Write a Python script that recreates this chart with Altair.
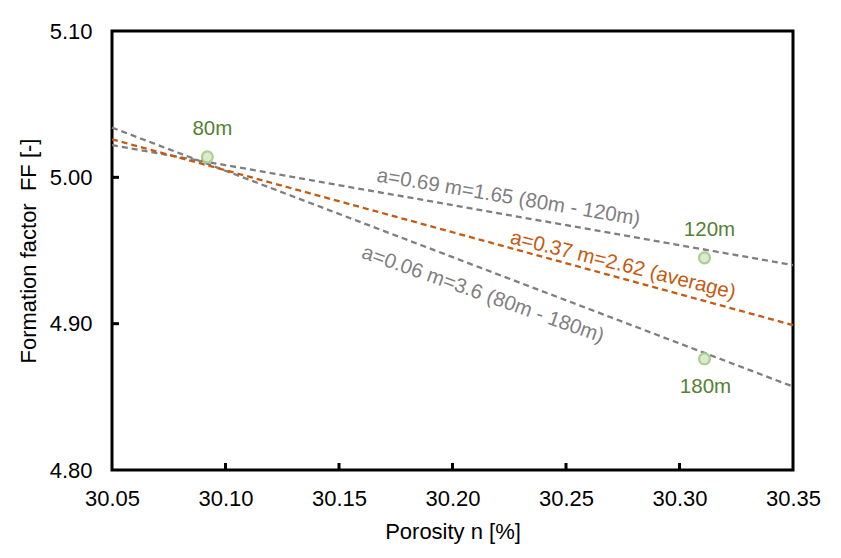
import altair as alt
import pandas as pd

# ---- data ----
x_domain = [30.05, 30.35]
y_domain = [4.80, 5.10]
x_ticks = [30.05, 30.10, 30.15, 30.20, 30.25, 30.30, 30.35]
y_ticks = [4.80, 4.90, 5.00, 5.10]
x_inner_ticks = [30.10, 30.15, 30.20, 30.25, 30.30]
y_inner_ticks = [4.90, 5.00]

depths = ["80m", "120m", "180m"]
porosity = [30.092, 30.311, 30.311]
ff = [5.014, 4.945, 4.876]
label_side = ["above", "above", "below"]

line_x = [30.05, 30.35]
line_80_120 = [5.022, 4.940]
line_avg = [5.026, 4.899]
line_80_180 = [5.034, 4.857]

ann_text = ["a=0.69 m=1.65 (80m - 120m)", "a=0.37 m=2.62 (average)", "a=0.06 m=3.6 (80m - 180m)"]
ann_x = [30.2247, 30.2751, 30.2134]
ann_y = [4.9862, 4.9398, 4.9199]
ann_angle = [9.5, 14, 19.5]

GRAY = "#7f7f7f"
ORANGE = "#c55a11"
GREEN_TXT = "#548235"
FONT = "Liberation Sans"
W, H = 681, 439

xs = alt.Scale(domain=x_domain, nice=False, zero=False)
ys = alt.Scale(domain=y_domain, nice=False, zero=False)

x_axis = alt.Axis(values=x_ticks, format=".2f", title="Porosity n [%]", grid=False,
                  domain=False, ticks=False, labelPadding=18, titlePadding=12,
                  labelFlush=False, labelOverlap=False)
y_axis = alt.Axis(values=y_ticks, format=".2f", title="Formation factor\u00a0 FF [-]", grid=False,
                  domain=False, ticks=False, labelPadding=20, titlePadding=9,
                  labelFlush=False, labelOverlap=False)

def line_layer(ys_vals, color):
    df = pd.DataFrame({"x": line_x, "y": ys_vals})
    return alt.Chart(df).mark_line(color=color, strokeWidth=2.3, strokeDash=[6, 4]).encode(
        x=alt.X("x:Q", scale=xs, axis=x_axis),
        y=alt.Y("y:Q", scale=ys, axis=y_axis),
    )

l1 = line_layer(line_80_120, GRAY)
l2 = line_layer(line_80_180, GRAY)
l3 = line_layer(line_avg, ORANGE)

pts_df = pd.DataFrame({"x": porosity, "y": ff, "label": depths, "side": label_side})
pts = alt.Chart(pts_df).mark_point(shape="circle", filled=True, size=120, fill="#dbead0",
                                   stroke="#a9d18e", strokeWidth=2.2, opacity=1).encode(
    x=alt.X("x:Q", scale=xs), y=alt.Y("y:Q", scale=ys))

lab_above = alt.Chart(pts_df).transform_filter(alt.datum.side == "above").mark_text(
    font=FONT, fontSize=20.5, color=GREEN_TXT, dx=5, dy=-28).encode(
    x=alt.X("x:Q", scale=xs), y=alt.Y("y:Q", scale=ys), text="label:N")
lab_below = alt.Chart(pts_df).transform_filter(alt.datum.side == "below").mark_text(
    font=FONT, fontSize=20.5, color=GREEN_TXT, dx=1, dy=28).encode(
    x=alt.X("x:Q", scale=xs), y=alt.Y("y:Q", scale=ys), text="label:N")

ann_layers = []
for t, ax, ay, ang, col in zip(ann_text, ann_x, ann_y, ann_angle, [GRAY, ORANGE, GRAY]):
    df = pd.DataFrame({"x": [ax], "y": [ay], "t": [t]})
    ann_layers.append(alt.Chart(df).mark_text(font=FONT, fontSize=20.5, color=col, angle=ang,
                                              align="center", baseline="middle").encode(
        x=alt.X("x:Q", scale=xs), y=alt.Y("y:Q", scale=ys), text="t:N"))

xt = alt.Chart(pd.DataFrame({"x": x_inner_ticks})).mark_rule(color="black", strokeWidth=3).encode(
    x=alt.X("x:Q", scale=xs), y=alt.value(H), y2=alt.value(H - 7))
yt = alt.Chart(pd.DataFrame({"y": y_inner_ticks})).mark_rule(color="black", strokeWidth=3).encode(
    y=alt.Y("y:Q", scale=ys), x=alt.value(0), x2=alt.value(7))

chart = alt.layer(l1, l2, l3, *ann_layers, pts, lab_above, lab_below, xt, yt).properties(
    width=W, height=H,
    autosize=alt.AutoSizeParams(type="none"),
    padding={"left": 104, "top": 23, "right": 40, "bottom": 80},
    background="white",
).configure_view(stroke="black", strokeWidth=3).configure_axis(
    labelFont=FONT, labelFontSize=22, labelColor="black",
    titleFont=FONT, titleFontSize=22, titleFontWeight="normal", titleColor="black",
)

chart.save("out.html", embed_options={"renderer": "svg", "actions": False})
